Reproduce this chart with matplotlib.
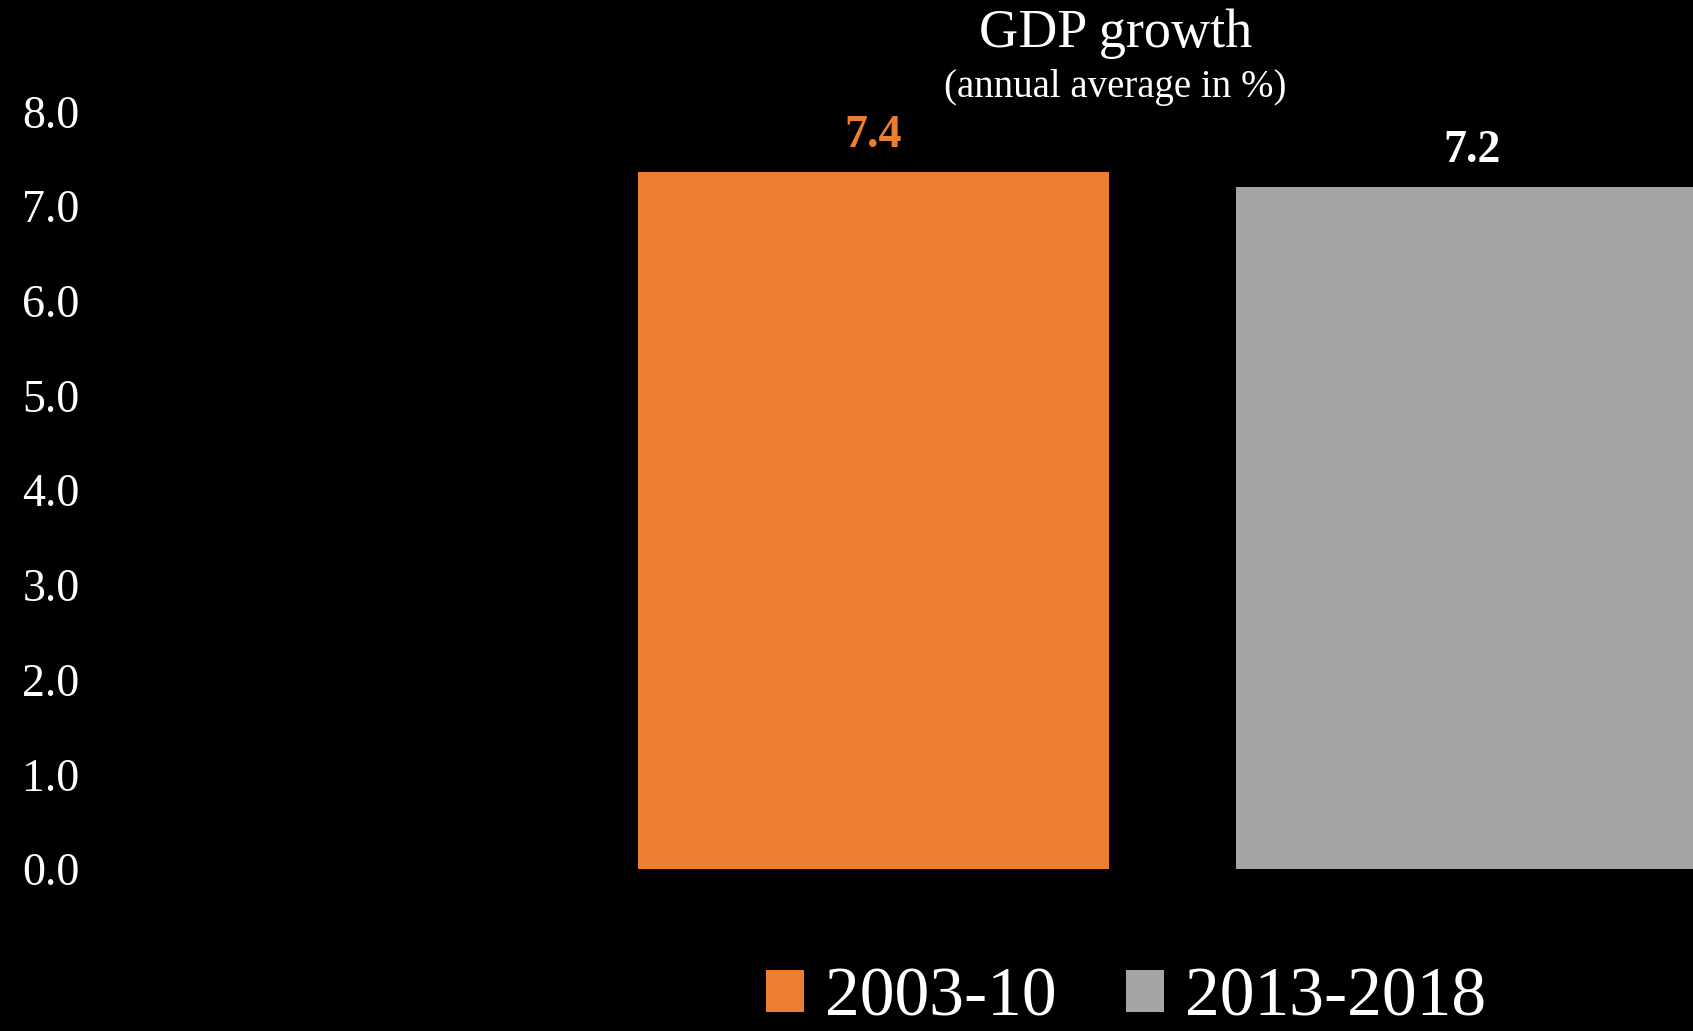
import matplotlib
matplotlib.use('Agg')
import matplotlib.pyplot as plt
from matplotlib.patches import Patch

# data
series_names = ['2003-10', '2013-2018']
series_values = [7.36, 7.2]
series_colors = ['#ED7D31', '#A5A5A5']
label_colors = ['#ED7D31', 'white']
y_ticks = [0, 1, 2, 3, 4, 5, 6, 7, 8]

plt.rcParams['font.family'] = ['Liberation Serif', 'DejaVu Serif']

fig = plt.figure(figsize=(16.93, 10.31), dpi=100, facecolor='black')
ax = fig.add_axes([0.056, 0.157, 0.944, 0.735], facecolor='black')

bar_width = 0.788
for i in range(len(series_names)):
	ax.bar(i, series_values[i], width=bar_width, color=series_colors[i], label=series_names[i])
	ax.annotate('%.1f' % series_values[i], xy=(i, series_values[i]), xytext=(0, 18),
		textcoords='offset points', ha='center', va='baseline',
		fontsize=33, fontweight='bold', color=label_colors[i])

ax.set_xlim(-1.302, 1.370)
ax.set_ylim(0, 8)
ax.set_yticks(y_ticks)
ax.set_yticklabels(['%.1f' % t for t in y_ticks])
ax.tick_params(axis='y', length=0, pad=11, labelsize=33, labelcolor='white')
ax.set_xticks([])
for s in ax.spines.values():
	s.set_visible(False)

# title
fig.text(0.659, 0.954, 'GDP growth', ha='center', va='baseline', color='white', fontsize=39)
fig.text(0.659, 0.906, '(annual average in %)', ha='center', va='baseline', color='white', fontsize=28)

# legend
handles = [Patch(facecolor=series_colors[i], label=series_names[i]) for i in range(len(series_names))]
fig.legend(handles=handles, loc='center', bbox_to_anchor=(0.665, 0.031), ncol=2, frameon=False,
	fontsize=50, labelcolor='white', handlelength=0.55, handleheight=0.55,
	handletextpad=0.3, columnspacing=1.0, borderpad=0)

fig.savefig('out.png', dpi=100, facecolor='black')
